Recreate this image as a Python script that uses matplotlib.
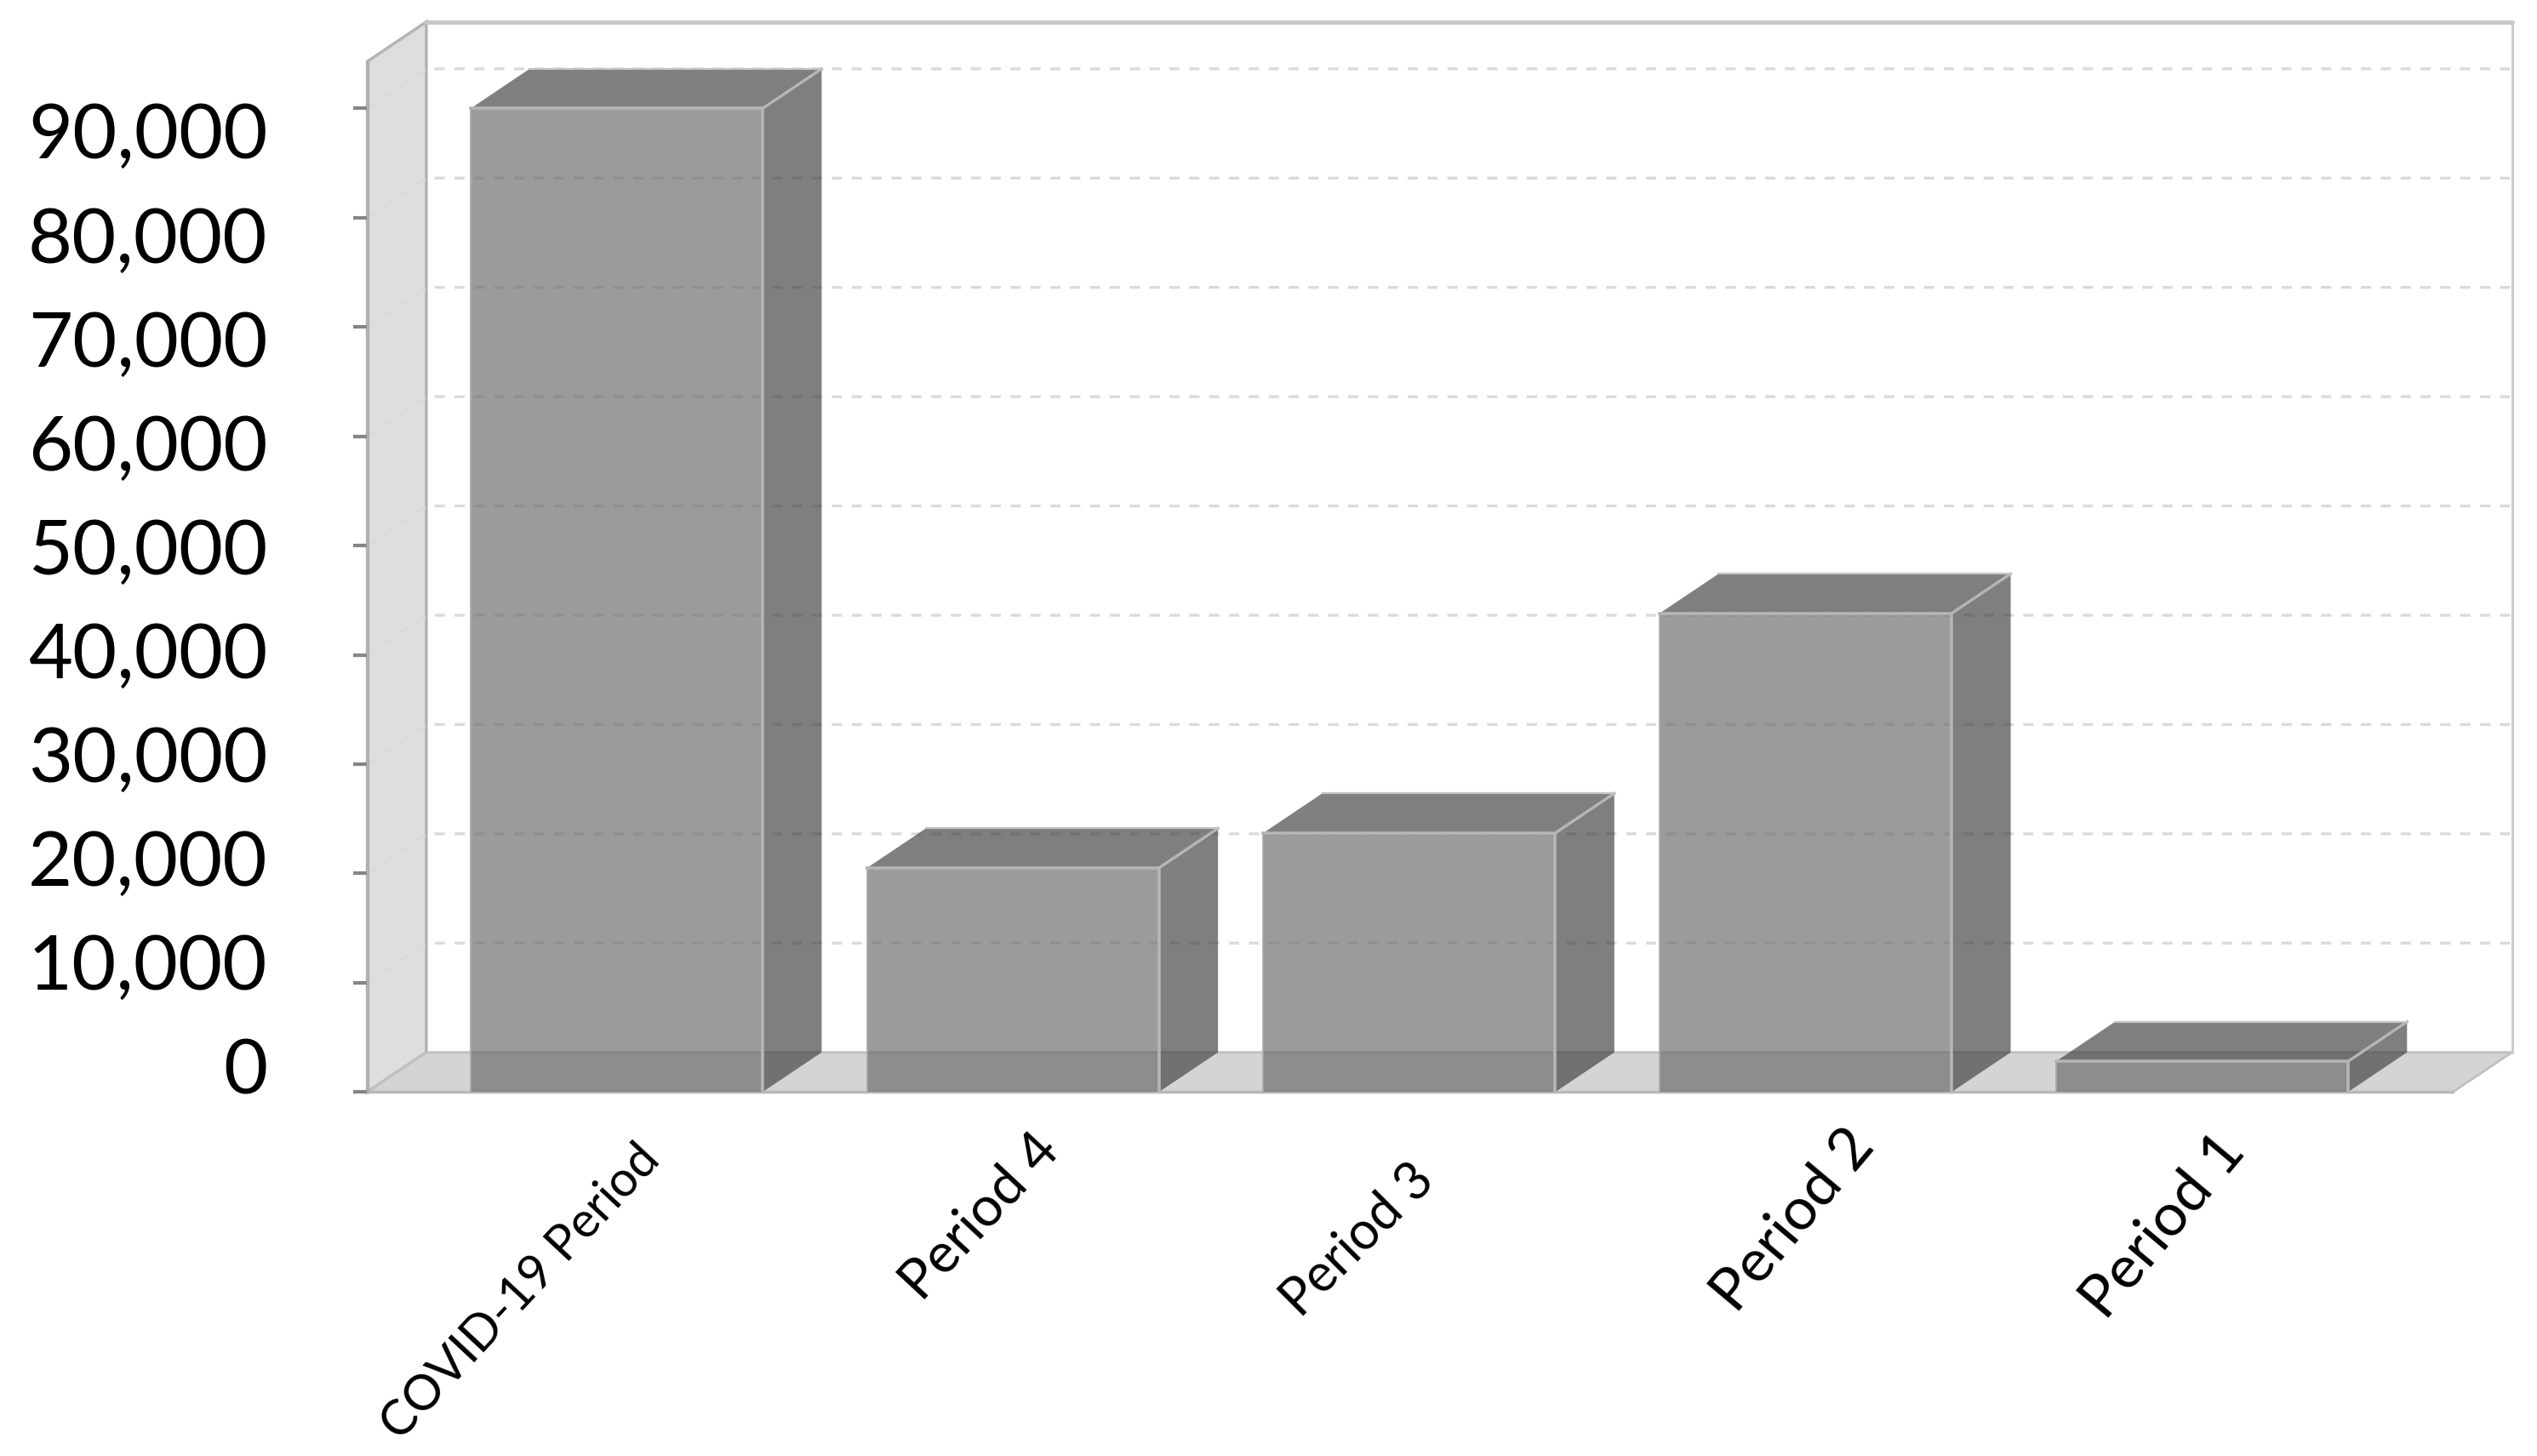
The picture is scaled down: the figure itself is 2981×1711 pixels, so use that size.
import matplotlib
matplotlib.use("Agg")
import matplotlib.pyplot as plt
from matplotlib.patches import Polygon

categories = ["COVID-19 Period", "Period 4", "Period 3", "Period 2", "Period 1"]
values = [90000, 20500, 23700, 43800, 2800]
yticks = [0, 10000, 20000, 30000, 40000, 50000, 60000, 70000, 80000, 90000]
ytick_labels = ["0", "10,000", "20,000", "30,000", "40,000", "50,000", "60,000", "70,000", "80,000", "90,000"]
label_sizes = [41.5, 47, 44, 50, 50.5]
label_rot = [47, 47, 45, 50, 50]
label_off = [(22, -52), (22, -38), (-1, -74), (44, -32), (14, -38)]

W, H = 2981, 1711
fig = plt.figure(figsize=(W / 100, H / 100), dpi=100, facecolor="white")
ax = fig.add_axes([227 / 1568, 1 - 675 / 900, (1516 - 227) / 1568, (675 - 38) / 900])
YMAX = 94300
ax.set_xlim(-0.629, 4.633)
ax.set_ylim(0, YMAX)
ax.patch.set_alpha(0)
for s in ("top", "right", "bottom"):
    ax.spines[s].set_visible(False)
ax.spines["left"].set_color("#b0b0b0")
ax.spines["left"].set_linewidth(2.5)
ax.set_xticks([])
ax.set_yticks(yticks)
ax.set_yticklabels([""] * len(yticks))
ax.tick_params(axis="y", length=12, width=3, color="#858585")

x0, x1 = ax.get_xlim()
dx = 36.5 / 245          # depth offset in x units
dy = 24.5 / 67.55 * 10000  # depth offset in y units
bw = 180.5 / 245

# walls and floor
ax.add_patch(Polygon([(x0, 0), (x0 + dx, dy), (x0 + dx, YMAX + dy), (x0, YMAX)], closed=True,
                     fc="#dedede", ec="#b4b4b4", lw=2.5, clip_on=False, zorder=1))
ax.add_patch(Polygon([(x0, 0), (x1, 0), (x1 + dx, dy), (x0 + dx, dy)], closed=True,
                     fc="#d4d4d4", ec="#c0c0c0", lw=2, clip_on=False, zorder=1))
ax.plot([x0 + dx, x1 + dx], [YMAX + dy] * 2, color="#c8c8c8", lw=3.6, clip_on=False, zorder=1.5,
        solid_capstyle="round")
ax.plot([x1 + dx, x1 + dx], [dy, YMAX + dy], color="#cccccc", lw=2.2, clip_on=False, zorder=1.5)
ax.plot([x0, x1], [0, 0], color="#b8b8b8", lw=2.5, clip_on=False, zorder=1.5)

# gridlines on left wall and back wall
for v in yticks[1:]:
    ax.plot([x0, x0 + dx, x1 + dx], [v, v + dy, v + dy], color="#dadada", lw=2.4,
            dashes=(3.6, 3.4), clip_on=False, zorder=1.6)

# bars
FACE, SHADE, EDGE = "#6a6a6a", "#404040", "#b6b6b6"
for i, v in enumerate(values):
    l, r = i - bw / 2, i + bw / 2
    side = [(r, 0), (r + dx, dy), (r + dx, v + dy), (r, v)]
    top = [(l, v), (r, v), (r + dx, v + dy), (l + dx, v + dy)]
    front = [(l, 0), (r, 0), (r, v), (l, v)]
    ax.add_patch(Polygon(side, closed=True, fc=SHADE, alpha=0.67, ec="none", clip_on=False, zorder=2))
    ax.add_patch(Polygon(top, closed=True, fc=SHADE, alpha=0.67, ec="none", clip_on=False, zorder=2))
    ax.add_patch(Polygon(front, closed=True, fc=FACE, alpha=0.67, ec="none", clip_on=False, zorder=2))
    ax.plot([r, r, l], [0, v, v], color=EDGE, lw=2.6, clip_on=False, zorder=3)
    ax.plot([l, l], [0, v], color="#aaaaaa", lw=1.2, clip_on=False, zorder=3)
    ax.plot([r, r + dx], [v, v + dy], color=EDGE, lw=2.4, clip_on=False, zorder=3)
    ax.plot([l + dx, r + dx], [v + dy, v + dy], color="#c4c4c4", lw=1.6, clip_on=False, zorder=3)

# y labels sit on a slightly compressed scale relative to the ticks, as in the source
for v, t in zip(yticks, ytick_labels):
    ax.annotate(t, xy=(x0, v * 0.9507 - 148), xycoords="data", xytext=(-117, 0),
                textcoords="offset pixels", ha="right", va="baseline", fontsize=64.7,
                family="Lato", color="#000000", annotation_clip=False)

# category labels
for i, c in enumerate(categories):
    ox, oy = label_off[i]
    ax.annotate(c, xy=(i, 0), xycoords="data", xytext=(ox, oy), textcoords="offset pixels",
                ha="right", va="top", rotation=label_rot[i], rotation_mode="anchor",
                fontsize=label_sizes[i], family="Lato", color="#000000", annotation_clip=False)

fig.savefig("out.png", dpi=100)
